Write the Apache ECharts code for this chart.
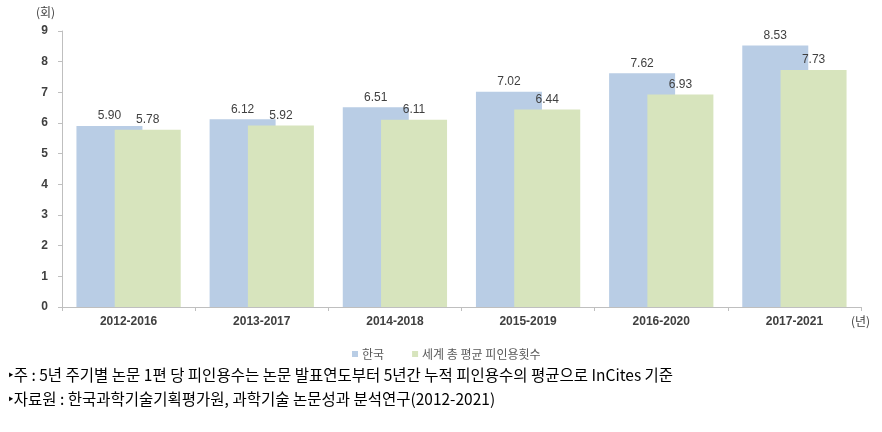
<!DOCTYPE html>
<html><head><meta charset="utf-8">
<script src="https://cdn.jsdelivr.net/npm/echarts@6/dist/echarts.min.js"></script>
<style>html,body{margin:0;padding:0;background:#fff}#c{width:882px;height:432px}</style>
</head><body><div id="c"></div>
<script>
const categories = ['2012-2016','2013-2017','2014-2018','2015-2019','2016-2020','2017-2021'];
const korea = [5.90, 6.12, 6.51, 7.02, 7.62, 8.53];
const world = [5.78, 5.92, 6.11, 6.44, 6.93, 7.73];
const seriesNames = ['한국', '세계 총 평균 피인용횟수'];
const yTicks = [0, 9, 1];
const notes = [
  '‣주 : 5년 주기별 논문 1편 당 피인용수는 논문 발표연도부터 5년간 누적 피인용수의 평균으로 InCites 기준',
  '‣자료원 : 한국과학기술기획평가원, 과학기술 논문성과 분석연구(2012-2021)'
];
const font = '"Noto Sans CJK KR", "Noto Sans", sans-serif';
const chart = echarts.init(document.getElementById('c'), null, {renderer:'canvas'});
const label = {show:true, position:'top', distance:4, color:'#404040', fontSize:12, fontFamily:'"Liberation Sans", sans-serif', formatter: p => p.value.toFixed(2)};
chart.setOption({
  animation:false,
  backgroundColor:'#fff',
  grid:{left:62, right:21, top:31, bottom:125},
  legend:{
    data:seriesNames, left:347, top:343, itemWidth:6, itemHeight:6, itemGap:28,
    icon:'rect',
    textStyle:{fontFamily:font, fontSize:12, color:'#595959', padding:[0,0,0,-1]}
  },
  xAxis:{
    type:'category', data:categories,
    axisLine:{lineStyle:{color:'#BFBFBF'}},
    axisTick:{show:true, length:4, lineStyle:{color:'#BFBFBF'}},
    axisLabel:{color:'#404040', fontSize:12, fontWeight:'bold', fontFamily:'"Liberation Sans", sans-serif', margin:9}
  },
  yAxis:{
    type:'value', min:yTicks[0], max:yTicks[1], interval:yTicks[2],
    splitLine:{show:false},
    axisLine:{show:true, lineStyle:{color:'#BFBFBF'}},
    axisTick:{show:true, length:4, lineStyle:{color:'#BFBFBF'}},
    axisLabel:{color:'#404040', fontSize:12, fontWeight:'bold', fontFamily:'"Liberation Sans", sans-serif', margin:14}
  },
  series:[
    {name:seriesNames[0], type:'bar', data:korea, barWidth:66, barGap:'-42%', itemStyle:{color:'#B9CDE5'}, label:label},
    {name:seriesNames[1], type:'bar', data:world, barWidth:66, itemStyle:{color:'#D7E4BD'}, label:label}
  ],
  graphic:[
    {type:'text', left:36, top:6, style:{text:'(회)', font:'12px '+font, fill:'#404040'}},
    {type:'text', left:851, top:315, style:{text:'(년)', font:'12px '+font, fill:'#404040'}},
    {type:'text', left:8, top:367, style:{text:notes[0], font:'15.5px '+font, fill:'#000'}},
    {type:'text', left:8, top:391, style:{text:notes[1], font:'15.5px '+font, fill:'#000'}}
  ]
});
</script></body></html>
